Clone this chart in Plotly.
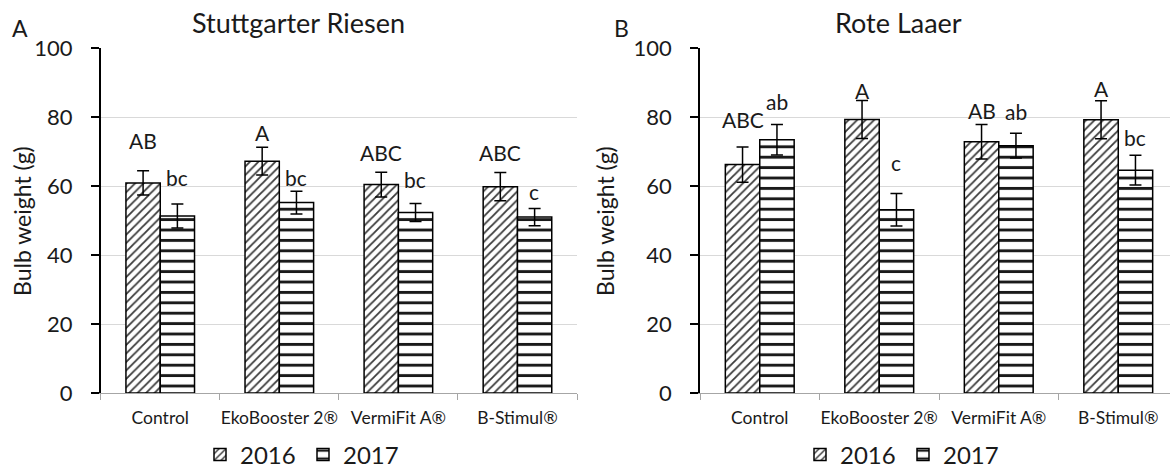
import plotly.graph_objects as go

# ---------------- data ----------------
categories = ["Control", "EkoBooster 2®", "VermiFit A®", "B-Stimul®"]
years = ["2016", "2017"]

# Panel A – Stuttgarter Riesen
a_2016 = [60.9, 67.2, 60.4, 59.8]
a_2016_se = [3.5, 4.0, 3.6, 4.1]
a_2017 = [51.3, 55.2, 52.3, 51.0]
a_2017_se = [3.5, 3.3, 2.6, 2.5]
a_2016_letters = ["AB", "A", "ABC", "ABC"]
a_2017_letters = ["bc", "bc", "bc", "c"]
a_2016_letter_y = [73.2, 75.4, 69.7, 69.7]
a_2017_letter_y = [62.6, 62.6, 61.9, 58.3]

# Panel B – Rote Laaer
b_2016 = [66.2, 79.3, 72.8, 79.2]
b_2016_se = [5.1, 5.5, 5.0, 5.5]
b_2017 = [73.4, 53.1, 71.7, 64.6]
b_2017_se = [4.4, 4.7, 3.6, 4.3]
b_2016_letters = ["ABC", "A", "AB", "A"]
b_2017_letters = ["ab", "c", "ab", "bc"]
b_2016_letter_y = [79.3, 87.7, 81.9, 88.3]
b_2017_letter_y = [84.5, 66.8, 81.6, 74.2]

y_ticks = [0, 20, 40, 60, 80, 100]

# ---------------- styling ----------------
FONT = "Lato, Carlito, Calibri, sans-serif"
TXT = "#1a1a1a"
W, H = 1170, 468
MT, MB = 48, 75

pat16 = dict(shape="/", fgcolor="#3a3a3a", bgcolor="white", size=6, solidity=0.3, fillmode="replace")
pat17 = dict(shape="-", fgcolor="#1a1a1a", bgcolor="white", size=10.4, solidity=0.28, fillmode="replace")
err = dict(type="data", color="black", thickness=1.5, width=6, visible=True)

fig = go.Figure()


def add_panel(xa, ya, v16, s16, v17, s17, legend):
    fig.add_trace(go.Bar(
        x=categories, y=v16, name=years[0], xaxis=xa, yaxis=ya,
        marker=dict(color="white", pattern=pat16, line=dict(color="black", width=1.5)),
        error_y=dict(err, array=s16), legend=legend, offsetgroup="a",
    ))
    fig.add_trace(go.Bar(
        x=categories, y=v17, name=years[1], xaxis=xa, yaxis=ya,
        marker=dict(color="white", pattern=pat17, line=dict(color="black", width=1.5)),
        error_y=dict(err, array=s17), legend=legend, offsetgroup="b",
    ))


add_panel("x", "y", a_2016, a_2016_se, a_2017, a_2017_se, "legend")
add_panel("x2", "y2", b_2016, b_2016_se, b_2017, b_2017_se, "legend2")

annotations = []
HALF = 17  # pixel half-width of one bar


def letters(xref, yref, labels, ys, shift):
    for c, t, yy in zip(categories, labels, ys):
        annotations.append(dict(
            x=c, y=yy, xref=xref, yref=yref, text=t, showarrow=False,
            xshift=shift, font=dict(family=FONT, size=21, color=TXT),
            xanchor="center", yanchor="middle",
        ))


letters("x", "y", a_2016_letters, a_2016_letter_y, -HALF)
letters("x", "y", a_2017_letters, a_2017_letter_y, HALF)
letters("x2", "y2", b_2016_letters, b_2016_letter_y, -HALF)
letters("x2", "y2", b_2017_letters, b_2017_letter_y, HALF)


def px_x(p):
    return p / W


def px_y(p):
    return (H - MB - p) / (H - MT - MB)


# panel titles, letters and y-axis titles
for txt, x, y, size in [
    ("Stuttgarter Riesen", 298, 22, 27),
    ("Rote Laaer", 898, 22, 27),
    ("A", 20, 28, 23),
    ("B", 621, 28, 23),
]:
    annotations.append(dict(
        x=px_x(x), y=px_y(y), xref="paper", yref="paper", text=txt, showarrow=False,
        xanchor="center", yanchor="middle", font=dict(family=FONT, size=size, color=TXT),
    ))
for x in [22, 605]:
    annotations.append(dict(
        x=px_x(x), y=px_y(221), xref="paper", yref="paper", text="Bulb weight (g)",
        showarrow=False, textangle=-90, xanchor="center", yanchor="middle",
        font=dict(family=FONT, size=23, color=TXT),
    ))

xcommon = dict(
    type="category", categoryorder="array", categoryarray=categories,
    tickson="boundaries", ticks="outside", ticklen=6, tickcolor="#a6a6a6", tickwidth=1.3,
    showline=True, linecolor="#a6a6a6", linewidth=1.3, showgrid=False, zeroline=False,
    tickfont=dict(family=FONT, size=17.5, color=TXT), ticklabelstandoff=9, tickangle=0,
    automargin=False, fixedrange=True,
)
ycommon = dict(
    range=[0, 100], tickvals=y_ticks, showgrid=True, gridcolor="#d9d9d9", gridwidth=1.3,
    showline=True, linecolor="black", linewidth=1.5, ticks="outside", ticklen=8,
    tickcolor="black", tickwidth=1.5, zeroline=False,
    tickfont=dict(family=FONT, size=22, color=TXT), ticklabelstandoff=14,
    automargin=False, fixedrange=True,
)

legcommon = dict(orientation="h", xref="container", yref="container", xanchor="center",
                 y=1 - 455 / H, yanchor="middle", font=dict(family=FONT, size=24, color=TXT),
                 itemwidth=30, entrywidth=58, bgcolor="rgba(0,0,0,0)")

fig.update_layout(
    width=W, height=H,
    margin=dict(l=0, r=0, t=MT, b=MB, pad=0, autoexpand=False),
    paper_bgcolor="white", plot_bgcolor="white",
    barmode="group", bargap=0.424, bargroupgap=0,
    xaxis=dict(xcommon, domain=[100.7 / W, 577 / W], range=[-0.5, 3.5], anchor="y"),
    yaxis=dict(ycommon, domain=[0, 1], anchor="x"),
    xaxis2=dict(xcommon, domain=[700 / W, 1.0], range=[-0.5, 3.433], anchor="y2"),
    yaxis2=dict(ycommon, domain=[0, 1], anchor="x2"),
    legend=dict(legcommon, x=303 / W),
    legend2=dict(legcommon, x=903 / W),
    annotations=annotations,
    showlegend=True,
)

fig.write_html(
    "out.html",
    config={"displayModeBar": False},
    post_script="document.body.style.margin='0';document.body.style.overflow='hidden';",
)
